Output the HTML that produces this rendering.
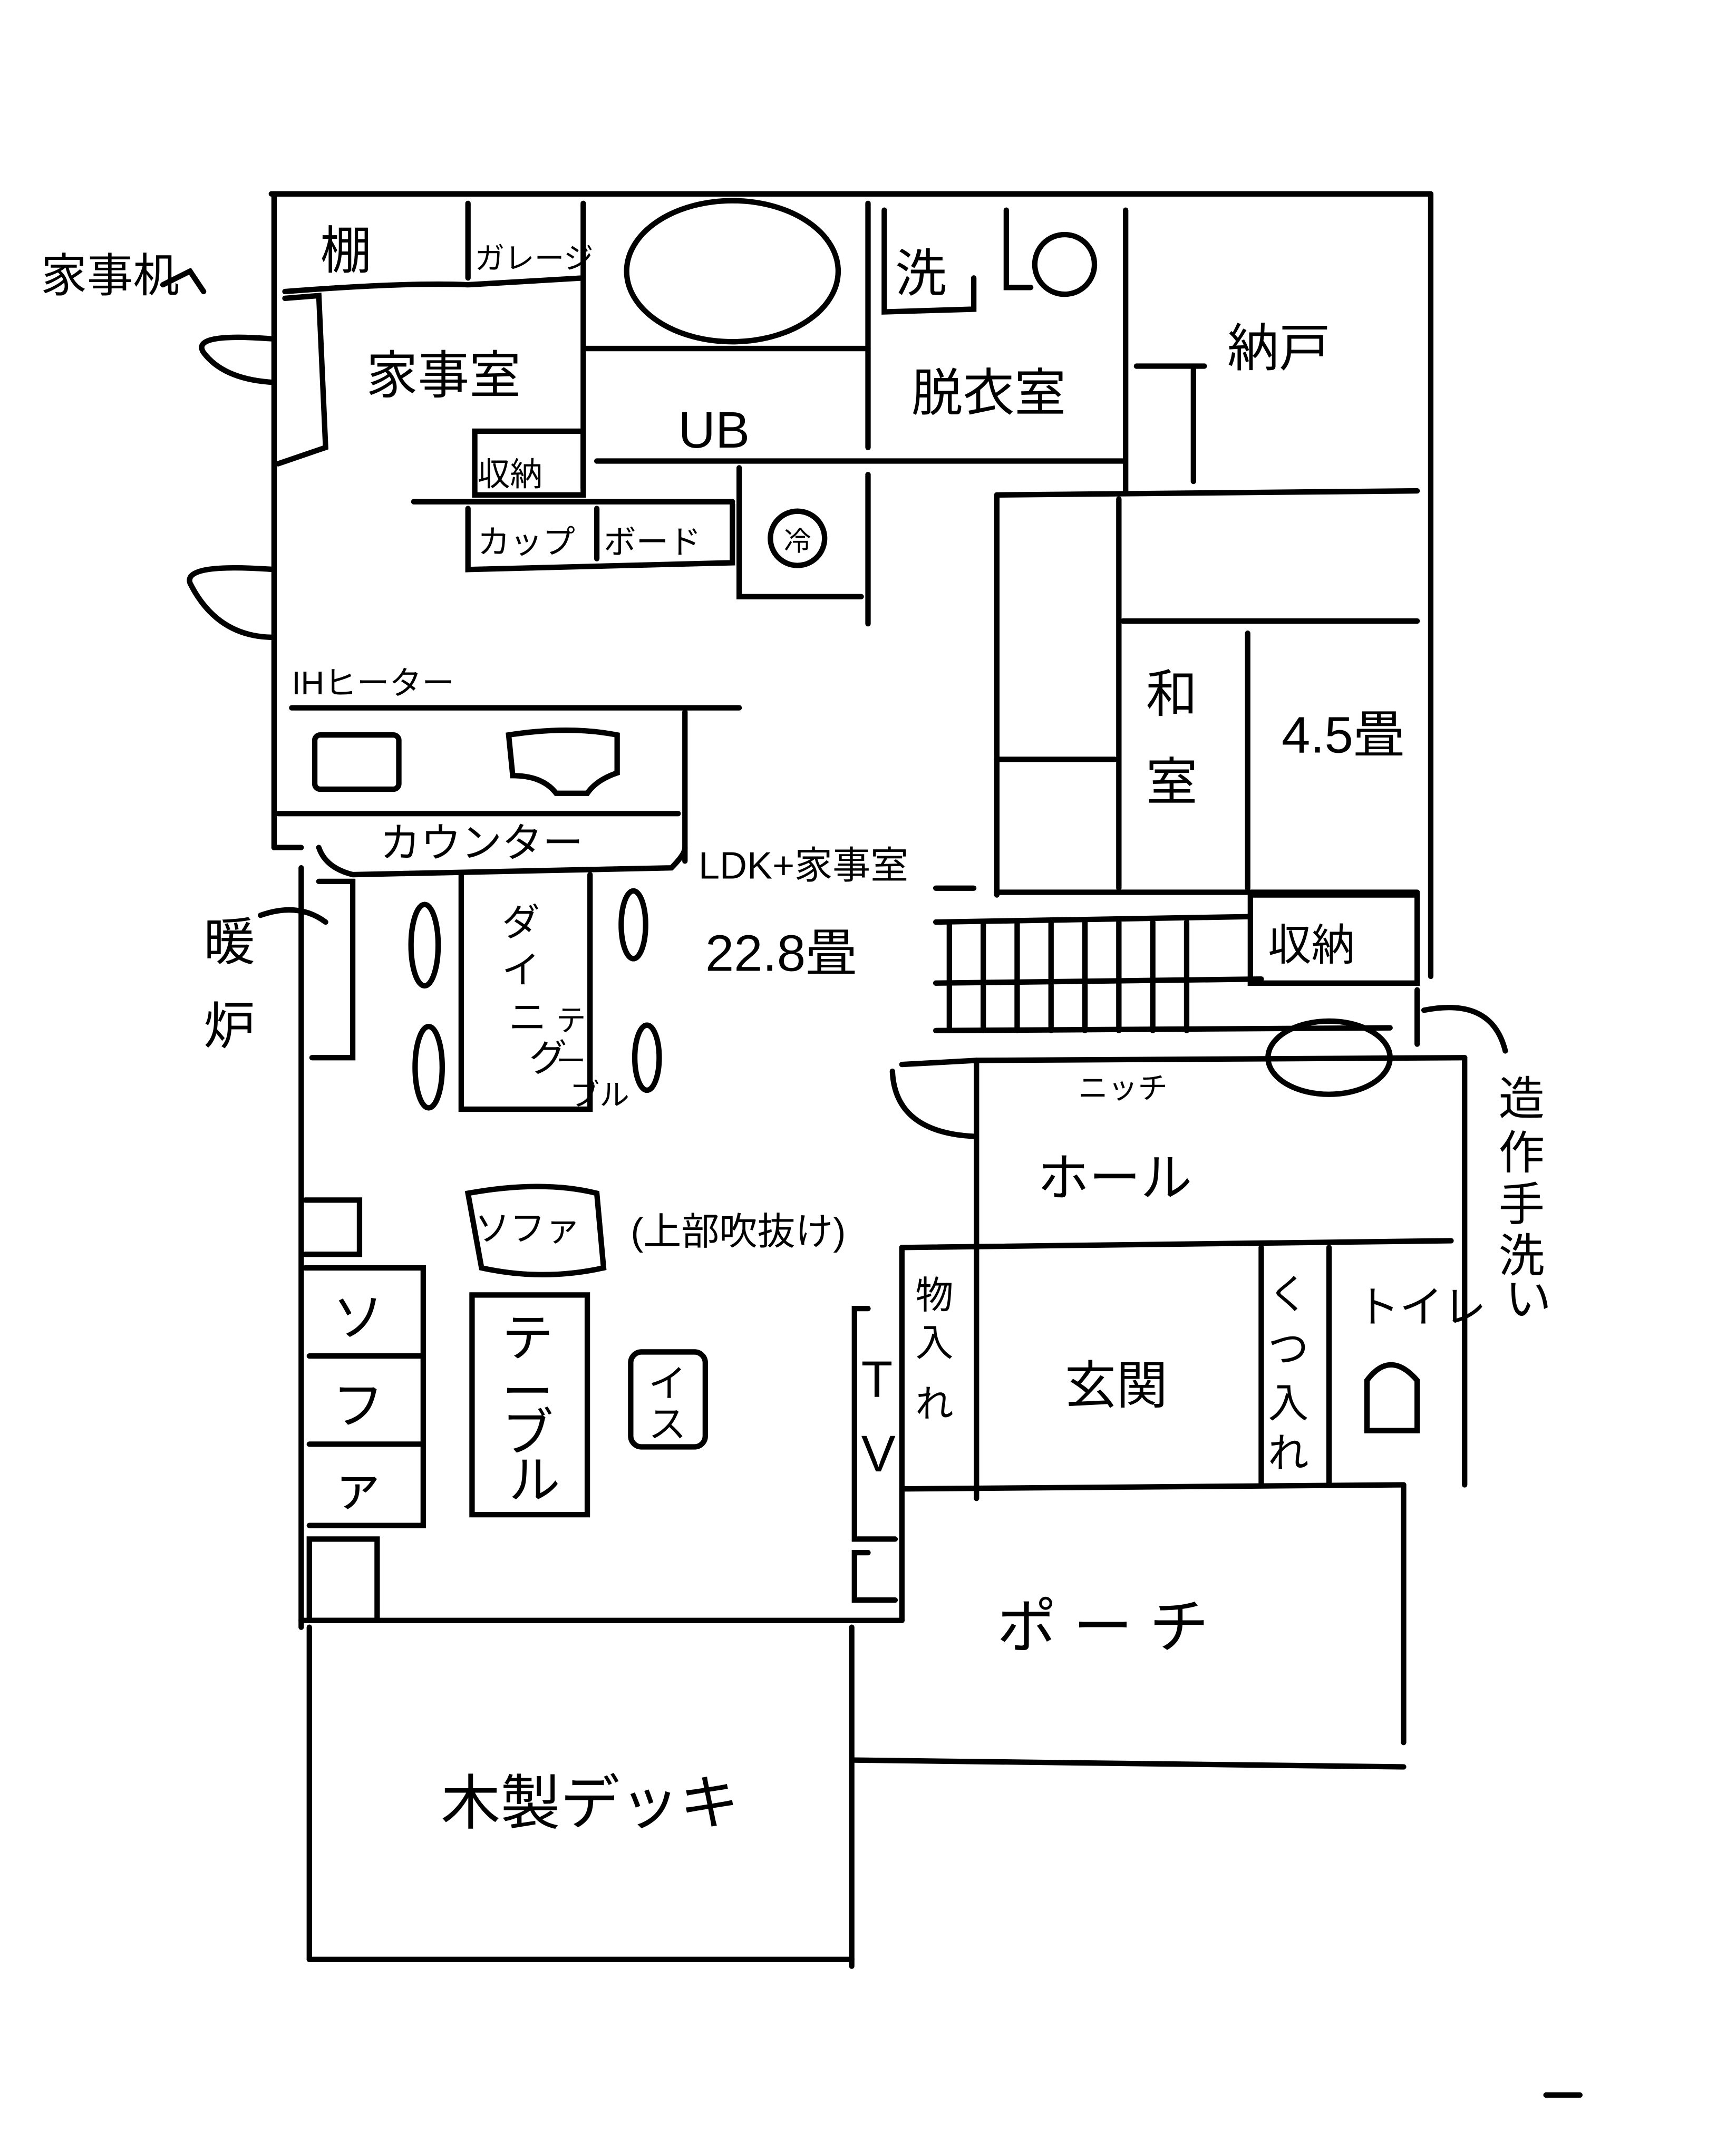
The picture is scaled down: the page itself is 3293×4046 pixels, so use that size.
<!DOCTYPE html>
<html><head><meta charset="utf-8"><style>
html,body{margin:0;padding:0;background:#fff;}
svg{display:block;}
text{font-family:"Liberation Sans","Noto Sans CJK JP",sans-serif;fill:#000;}
</style></head><body>
<svg width="3293" height="4046" viewBox="0 0 1280 1573" xmlns="http://www.w3.org/2000/svg">
<g stroke="#000" stroke-width="4" fill="none" stroke-linecap="round">
<!-- outer -->
<line x1="200" y1="143" x2="1055" y2="143"/>
<line x1="202" y1="143" x2="202" y2="625"/>
<line x1="1055" y1="143" x2="1055" y2="720"/>
<line x1="202" y1="625" x2="222" y2="625"/>
<line x1="222" y1="640" x2="222" y2="1200"/>
<!-- top row -->
<path d="M210 215 Q300 208 345 210 L430 205"/>
<line x1="345" y1="150" x2="345" y2="205"/>
<line x1="430" y1="150" x2="430" y2="360"/>
<ellipse cx="540" cy="200" rx="78" ry="52"/>
<line x1="432" y1="257" x2="640" y2="257"/>
<line x1="640" y1="150" x2="640" y2="330"/>
<path d="M652 155 L652 230 L718 228 L718 205"/>
<path d="M742 155 L742 212 L760 212"/>
<circle cx="785" cy="195" r="22"/>
<line x1="830" y1="155" x2="830" y2="362"/>
<line x1="838" y1="270" x2="888" y2="270"/>
<line x1="880" y1="270" x2="880" y2="355"/>
<line x1="440" y1="340" x2="828" y2="340"/>
<!-- 家事室 desk -->
<path d="M210 220 L235 218 L240 330 L205 342"/>
<path d="M202 250 Q140 245 150 260 Q165 280 202 282"/>
<path d="M202 420 Q135 415 140 430 Q160 470 202 470"/>
<rect x="350" y="318" width="80" height="47"/>
<line x1="305" y1="370" x2="540" y2="370"/>
<path d="M345 375 L345 420 L540 415 L540 372"/>
<line x1="440" y1="375" x2="440" y2="412"/>
<path d="M545 345 L545 440 L635 440"/>
<line x1="640" y1="350" x2="640" y2="460"/>
<circle cx="588" cy="397" r="20"/>
<!-- right side 和室 -->
<line x1="735" y1="365" x2="1045" y2="362"/>
<line x1="735" y1="365" x2="735" y2="660"/>
<line x1="825" y1="368" x2="825" y2="655"/>
<line x1="828" y1="458" x2="1045" y2="458"/>
<line x1="920" y1="467" x2="920" y2="655"/>
<line x1="735" y1="560" x2="822" y2="560"/>
<line x1="690" y1="655" x2="718" y2="655"/>
<line x1="735" y1="658" x2="1045" y2="658"/>
<!-- IH / counter -->
<line x1="215" y1="522" x2="545" y2="522"/>
<line x1="505" y1="525" x2="505" y2="635"/>
<rect x="232" y="542" width="62" height="40" rx="4"/>
<path d="M375 542 Q420 535 455 542 L455 570 Q440 575 433 585 L410 585 Q400 572 378 572 Z"/>
<line x1="205" y1="600" x2="500" y2="600"/>
<path d="M235 625 Q240 640 260 645 L495 640 Q505 630 505 625"/>
<!-- dining -->
<path d="M235 650 L260 650 L260 780 L230 780"/>
<path d="M340 645 L340 818 L435 818 L435 645"/>
<ellipse cx="313" cy="697" rx="10" ry="30"/>
<ellipse cx="467" cy="682" rx="9" ry="25"/>
<ellipse cx="316" cy="787" rx="10" ry="30"/>
<ellipse cx="477" cy="780" rx="9" ry="24"/>
<path d="M192 675 Q220 665 240 680"/>
<!-- stairs -->
<line x1="690" y1="680" x2="920" y2="676"/>
<line x1="690" y1="725" x2="930" y2="722"/>
<line x1="690" y1="760" x2="1025" y2="758"/>
<line x1="700" y1="680" x2="700" y2="760"/>
<line x1="725" y1="680" x2="725" y2="760"/>
<line x1="750" y1="680" x2="750" y2="760"/>
<line x1="775" y1="680" x2="775" y2="760"/>
<line x1="800" y1="680" x2="800" y2="760"/>
<line x1="825" y1="680" x2="825" y2="760"/>
<line x1="850" y1="680" x2="850" y2="760"/>
<line x1="875" y1="680" x2="875" y2="760"/>
<rect x="922" y="660" width="123" height="65"/>
<ellipse cx="980" cy="780" rx="45" ry="27"/>
<path d="M1045 730 L1045 770"/>
<path d="M1050 745 Q1100 735 1110 775"/>
<!-- hall -->
<path d="M658 790 Q660 835 718 838"/>
<line x1="665" y1="785" x2="720" y2="782"/>
<line x1="720" y1="782" x2="1080" y2="780"/>
<line x1="720" y1="782" x2="720" y2="1105"/>
<line x1="1080" y1="780" x2="1080" y2="1095"/>
<line x1="665" y1="920" x2="1070" y2="915"/>
<line x1="665" y1="920" x2="665" y2="1195"/>
<line x1="930" y1="920" x2="930" y2="1095"/>
<line x1="980" y1="920" x2="980" y2="1095"/>
<path d="M1008 1055 L1008 1018 Q1025 995 1045 1018 L1045 1055 Z"/>
<line x1="665" y1="1098" x2="1035" y2="1095"/>
<line x1="1035" y1="1095" x2="1035" y2="1285"/>
<line x1="630" y1="1298" x2="1035" y2="1303"/>
<!-- TV -->
<path d="M640 965 L630 965 L630 1135 L660 1135"/>
<path d="M640 1145 L630 1145 L630 1180 L660 1180"/>
<!-- living -->
<line x1="222" y1="1195" x2="665" y2="1195"/>
<path d="M225 885 L265 885 L265 925 L225 925"/>
<path d="M225 935 L312 935 L312 1125 L228 1125"/>
<line x1="228" y1="1000" x2="312" y2="1000"/>
<line x1="228" y1="1065" x2="312" y2="1065"/>
<rect x="228" y="1135" width="50" height="60"/>
<path d="M345 880 Q400 870 440 880 L445 935 Q400 945 355 935 Z"/>
<rect x="348" y="955" width="85" height="162"/>
<rect x="465" y="997" width="55" height="70" rx="8"/>
<!-- deck -->
<line x1="228" y1="1200" x2="228" y2="1445"/>
<line x1="228" y1="1445" x2="628" y2="1445"/>
<line x1="628" y1="1200" x2="628" y2="1450"/>
<path d="M120 210 L140 200 L150 215"/>
<line x1="1140" y1="1545" x2="1165" y2="1545"/>
</g>
<g font-size="38">
<text x="236" y="198">棚</text>
<text x="350" y="198" font-size="22">ガレージ</text>
<text x="270" y="290">家事室</text>
<text x="500" y="330">UB</text>
<text x="660" y="215">洗</text>
<text x="672" y="303">脱衣室</text>
<text x="905" y="270">納戸</text>
<text x="352" y="358" font-size="24">収納</text>
<text x="352" y="408" font-size="24">カップ</text>
<text x="445" y="408" font-size="24">ボード</text>
<text x="578" y="406" font-size="20">冷</text>
<text x="215" y="512" font-size="24">IHヒーター</text>
<text x="845" y="525">和</text>
<text x="845" y="590">室</text>
<text x="945" y="555">4.5畳</text>
<text x="280" y="632" font-size="30">カウンター</text>
<text x="515" y="648" font-size="28">LDK+家事室</text>
<text x="520" y="716">22.8畳</text>
<text x="935" y="708" font-size="32">収納</text>
<text x="30" y="215" font-size="34">家事机</text>
<text x="150" y="708">暖</text>
<text x="150" y="770">炉</text>
<text x="370" y="690" font-size="28">ダ</text>
<text x="370" y="725" font-size="28">イ</text>
<text x="375" y="760" font-size="28">ニ</text>
<text x="390" y="790" font-size="28">グ</text>
<text x="410" y="760" font-size="22">テ</text>
<text x="410" y="790" font-size="22">ー</text>
<text x="420" y="815" font-size="22">ブル</text>
<text x="795" y="810" font-size="22">ニッチ</text>
<text x="765" y="882">ホール</text>
<text x="350" y="915" font-size="26">ソファ</text>
<text x="465" y="918" font-size="28">(上部吹抜け)</text>
<text x="245" y="985">ソ</text>
<text x="245" y="1050">フ</text>
<text x="245" y="1110">ァ</text>
<text x="370" y="1000">テ</text>
<text x="370" y="1040">ー</text>
<text x="370" y="1070">ブ</text>
<text x="375" y="1105">ル</text>
<text x="478" y="1030" font-size="28">イ</text>
<text x="478" y="1060" font-size="28">ス</text>
<text x="675" y="965" font-size="28">物</text>
<text x="675" y="1000" font-size="28">入</text>
<text x="675" y="1045" font-size="28">れ</text>
<text x="635" y="1030">T</text>
<text x="635" y="1085">V</text>
<text x="785" y="1035">玄関</text>
<text x="935" y="965" font-size="30">く</text>
<text x="935" y="1005" font-size="30">つ</text>
<text x="935" y="1045" font-size="30">入</text>
<text x="935" y="1082" font-size="30">れ</text>
<text x="1000" y="975" font-size="32">トイレ</text>
<text x="735" y="1215" font-size="44">ポ ー チ</text>
<text x="325" y="1345" font-size="44">木製デッキ</text>
<text x="1105" y="822" font-size="34">造</text>
<text x="1105" y="862" font-size="34">作</text>
<text x="1105" y="900" font-size="34">手</text>
<text x="1105" y="938" font-size="34">洗</text>
<text x="1110" y="970" font-size="34">い</text>
</g>
</svg>
</body></html>
